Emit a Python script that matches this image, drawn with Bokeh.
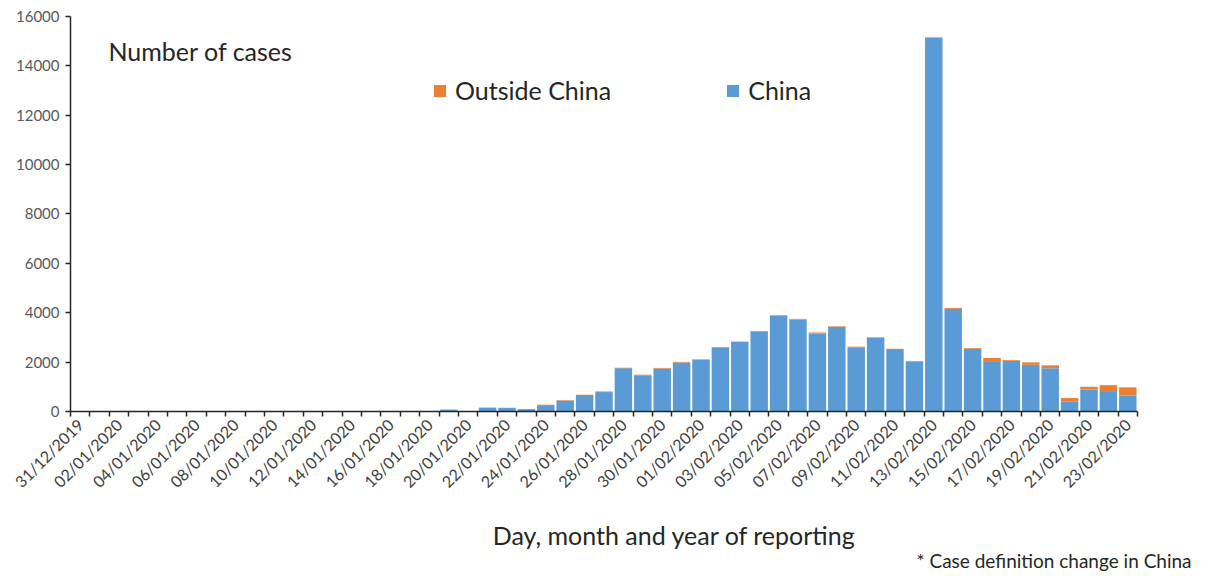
import pandas as pd
from bokeh.plotting import figure
from bokeh.models import (ColumnDataSource, Range1d, FixedTicker, Legend, LegendItem, Label)
from bokeh.embed import file_html
from bokeh.resources import INLINE

# ---- data ----
dates = [d.strftime("%d/%m/%Y") for d in pd.date_range("2019-12-31", "2020-02-23", freq="D")]
china = [0] * 19 + [77, 19, 151, 140, 97, 259, 441, 665, 787, 1753, 1466, 1740, 1980, 2095,
                    2590, 2812, 3237, 3872, 3727, 3160, 3418, 2607, 2974, 2490, 2028, 15141,
                    4156, 2538, 2007, 2052, 1890, 1750, 394, 891, 826, 647]
outside = [0] * 21 + [10, 10, 5, 15, 20, 15, 25, 20, 25, 25, 30, 20, 25, 20, 25, 30, 25, 40,
                      30, 20, 30, 50, 20, 20, 40, 30, 160, 30, 100, 120, 150, 110, 240, 330]
y_ticks = [0, 2000, 4000, 6000, 8000, 10000, 12000, 14000, 16000]

FONT = "Lato"
BLUE = "#5B9BD5"
ORANGE = "#ED7D31"

n = len(dates)
idx = list(range(n))
src = ColumnDataSource(dict(x=idx, china=china, outside=outside))

# the frame covers the whole canvas, so that axis labels and notes drawn inside it
# are not clipped; axes are drawn at fixed data locations
p = figure(width=1205, height=572, output_backend="svg", toolbar_location=None,
           title=None, x_range=Range1d(-0.5 - 3.608, n - 0.5 + 3.505),
           y_range=Range1d(-6522, 16648),
           min_border_left=0, min_border_right=0, min_border_top=0, min_border_bottom=0)

r = p.vbar_stack(["china", "outside"], x="x", width=0.9, source=src,
                 color=[BLUE, ORANGE], line_color=None)

p.xgrid.visible = False
p.ygrid.visible = False
p.outline_line_color = None
p.background_fill_color = "white"

# x axis (drawn at y = 0)
xa = p.xaxis[0]
xa.fixed_location = 0
xa.bounds = (-0.5, n - 0.5)
xa.ticker = FixedTicker(ticks=idx[::2], minor_ticks=[i - 0.5 for i in range(n + 1)])
xa.major_label_overrides = {i: dates[i] for i in idx[::2]}
xa.major_label_orientation = 0.785398
xa.major_tick_in = 0
xa.major_tick_out = 0
xa.minor_tick_in = 0
xa.minor_tick_out = 5
xa.minor_tick_line_color = "#262626"
xa.minor_tick_line_width = 1.5
xa.axis_line_color = "#262626"
xa.axis_line_width = 1.5
xa.major_label_text_font = FONT
xa.major_label_text_font_size = "16px"
xa.major_label_text_color = "#404040"
xa.major_label_standoff = 5

# y axis (drawn at the left edge of the first category)
ya = p.yaxis[0]
ya.fixed_location = -0.5
ya.bounds = (0, 16000)
ya.ticker = FixedTicker(ticks=y_ticks, minor_ticks=[])
ya.major_tick_in = 0
ya.major_tick_out = 5
ya.major_tick_line_color = "#262626"
ya.major_tick_line_width = 1.5
ya.axis_line_color = "#262626"
ya.axis_line_width = 1.5
ya.major_label_text_font = FONT
ya.major_label_text_font_size = "15px"
ya.major_label_text_color = "#595959"
ya.major_label_standoff = 6

legend = Legend(items=[LegendItem(label="Outside China", renderers=[r[1]]),
                       LegendItem(label="China", renderers=[r[0]])],
                orientation="horizontal", location=(432, 467),
                border_line_color=None, background_fill_alpha=0,
                padding=0, margin=0, spacing=114, glyph_width=15, glyph_height=15,
                label_standoff=8, label_text_font=FONT, label_text_font_size="25px",
                label_text_color="#262626")
p.add_layout(legend, "center")

p.add_layout(Label(x=108, y=522, x_units="screen", y_units="screen", text="Number of cases",
                   text_font=FONT, text_font_size="25px", text_color="#262626",
                   text_baseline="middle", text_align="left"))
p.add_layout(Label(x=674, y=38, x_units="screen", y_units="screen",
                   text="Day, month and year of reporting",
                   text_font=FONT, text_font_size="25px", text_color="#262626",
                   text_baseline="middle", text_align="center"))
p.add_layout(Label(x=916, y=12, x_units="screen", y_units="screen",
                   text="* Case definition change in China",
                   text_font=FONT, text_font_size="19px", text_color="#262626",
                   text_baseline="middle", text_align="left"))

open("out.html", "w").write(file_html(p, INLINE))
